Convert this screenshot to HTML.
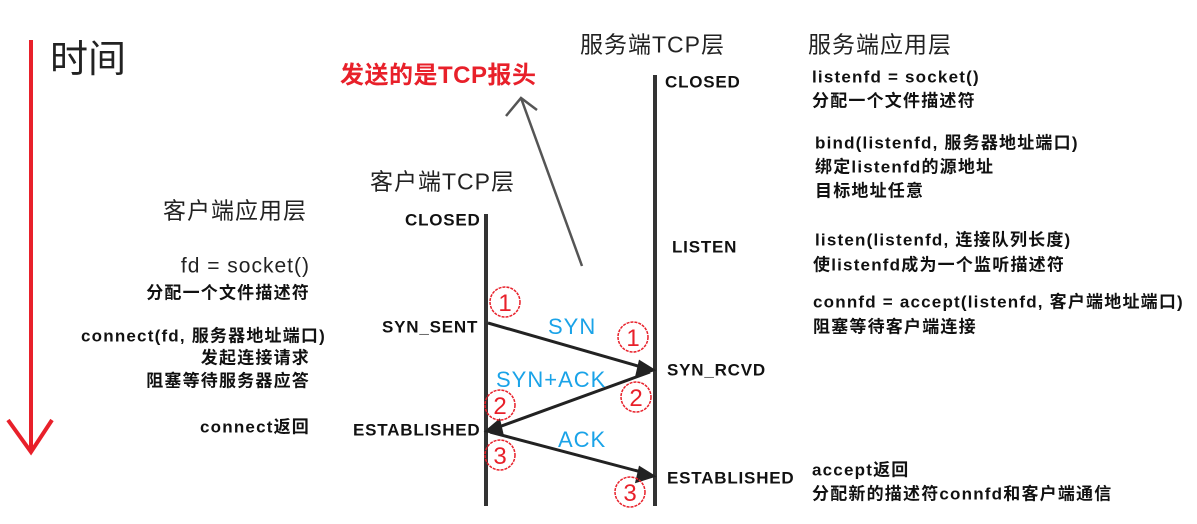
<!DOCTYPE html>
<html><head><meta charset="utf-8"><style>
body{margin:0;width:1197px;height:524px;background:#fff;position:relative;overflow:hidden;font-family:"Liberation Sans","Noto Sans CJK SC",sans-serif;}
.t{position:absolute;white-space:nowrap;transform:translateY(-50%);line-height:1;}
.b{font-weight:bold;font-size:17px;color:#111;letter-spacing:1.2px;}
.r{text-align:right;}
.h{font-size:23px;color:#222;letter-spacing:1px;}
.s{font-weight:bold;font-size:17px;color:#111;letter-spacing:0.8px;}
.bl{font-size:22px;color:#1aa3e8;letter-spacing:1px;}
</style></head><body>
<svg width="1197" height="524" style="position:absolute;left:0;top:0">
<line x1="31" y1="40" x2="31" y2="452" stroke="#e8202a" stroke-width="4"/>
<polyline points="8,420 31,452 52,420" fill="none" stroke="#e8202a" stroke-width="4"/>
<line x1="486" y1="214" x2="486" y2="506" stroke="#333" stroke-width="4"/>
<line x1="655" y1="75" x2="655" y2="506" stroke="#333" stroke-width="4"/>
<line x1="582" y1="266" x2="521" y2="98" stroke="#555" stroke-width="2.5"/>
<polyline points="506,116 521,98 537,110" fill="none" stroke="#555" stroke-width="2.5"/>
<g stroke="#222" stroke-width="3" fill="#222">
<line x1="488" y1="323" x2="645" y2="368"/>
<polygon points="653,370 640,362 637,375"/>
<line x1="650" y1="372" x2="496" y2="428"/>
<polygon points="487,431 499,421 502,434"/>
<line x1="490" y1="432" x2="645" y2="473"/>
<polygon points="653,476 640,468 637,481"/>
</g>
<g fill="none" stroke="#e8202a" stroke-width="1.5" stroke-dasharray="3,1">
<circle cx="505" cy="302" r="15"/><circle cx="633" cy="337" r="15"/>
<circle cx="500" cy="405" r="15"/><circle cx="636" cy="397" r="15"/>
<circle cx="500" cy="455" r="15"/><circle cx="630" cy="492" r="15"/>
</g>
<g fill="#e8202a" font-family="Liberation Sans,sans-serif" font-size="24" text-anchor="middle">
<text x="505" y="311">1</text><text x="633" y="346">1</text>
<text x="500" y="414">2</text><text x="636" y="406">2</text>
<text x="500" y="464">3</text><text x="630" y="501">3</text>
</g>
</svg>
<div class="t" style="left:50px;top:60px;font-size:38px;color:#222">时间</div>
<div class="t" style="left:340px;top:76px;font-size:24px;font-weight:bold;color:#e8202a;letter-spacing:0.5px">发送的是TCP报头</div>
<div class="t h" style="left:580px;top:45px">服务端TCP层</div>
<div class="t h" style="left:808px;top:45px">服务端应用层</div>
<div class="t h" style="left:370px;top:182px">客户端TCP层</div>
<div class="t h" style="left:163px;top:211px">客户端应用层</div>

<div class="t b" style="left:812px;top:77px">listenfd = socket()</div>
<div class="t b" style="left:812px;top:101px">分配一个文件描述符</div>
<div class="t b" style="left:815px;top:143px">bind(listenfd, 服务器地址端口)</div>
<div class="t b" style="left:815px;top:167px">绑定listenfd的源地址</div>
<div class="t b" style="left:815px;top:191px">目标地址任意</div>
<div class="t b" style="left:815px;top:240px">listen(listenfd, 连接队列长度)</div>
<div class="t b" style="left:813px;top:265px">使listenfd成为一个监听描述符</div>
<div class="t b" style="left:813px;top:302px">connfd = accept(listenfd, 客户端地址端口)</div>
<div class="t b" style="left:813px;top:327px">阻塞等待客户端连接</div>
<div class="t b" style="left:812px;top:470px">accept返回</div>
<div class="t b" style="left:812px;top:494px">分配新的描述符connfd和客户端通信</div>

<div class="t r" style="right:887px;top:266px;font-size:21px;color:#222;letter-spacing:1px">fd = socket()</div>
<div class="t b r" style="right:887px;top:293px">分配一个文件描述符</div>
<div class="t b r" style="right:871px;top:336px">connect(fd, 服务器地址端口)</div>
<div class="t b r" style="right:887px;top:358px">发起连接请求</div>
<div class="t b r" style="right:887px;top:381px">阻塞等待服务器应答</div>
<div class="t b r" style="right:887px;top:427px">connect返回</div>

<div class="t s" style="left:405px;top:220px">CLOSED</div>
<div class="t s" style="left:382px;top:327px">SYN_SENT</div>
<div class="t s" style="left:353px;top:430px">ESTABLISHED</div>
<div class="t s" style="left:665px;top:82px">CLOSED</div>
<div class="t s" style="left:672px;top:247px">LISTEN</div>
<div class="t s" style="left:667px;top:370px">SYN_RCVD</div>
<div class="t s" style="left:667px;top:478px">ESTABLISHED</div>

<div class="t bl" style="left:548px;top:327px">SYN</div>
<div class="t bl" style="left:496px;top:380px">SYN+ACK</div>
<div class="t bl" style="left:558px;top:440px">ACK</div>
</body></html>
